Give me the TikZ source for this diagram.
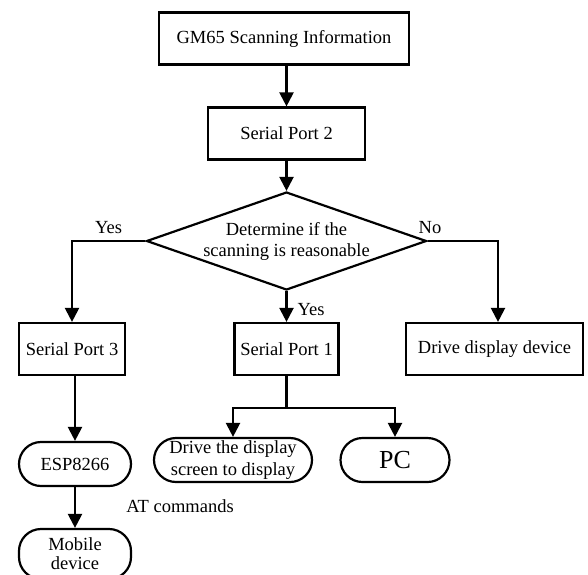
\documentclass[tikz,border=0pt]{standalone}
\usepackage{fontspec}
\setmainfont{Liberation Serif}
\usetikzlibrary{arrows.meta, calc, shapes.geometric}

\begin{document}
\begin{tikzpicture}[x=1pt, y=-1pt, line width=2.2pt, >={Triangle[length=14pt, width=14pt]},
  every node/.style={font=\fontsize{18.5}{21}\selectfont, inner sep=0pt},
  procbox/.style={draw, line width=2.2pt, minimum height=52pt},
  termbox/.style={draw, line width=2.2pt, rounded corners=22pt, minimum height=44pt, align=center}]
  \useasboundingbox (0,0) rectangle (588,574);
  \node[procbox, minimum width=250pt] (info) at (284,38.5) {GM65 Scanning Information};
  \node[procbox, minimum width=157pt] (port2) at (286.5,133.5) {Serial Port 2};
  \node[diamond, draw, line width=2.2pt, minimum width=280pt, minimum height=98pt] (decide) at (286.5,241) {};
  \node[align=center] (decidetext) at (286.5,241.5) {Determine if the\\scanning is reasonable};
  \node[procbox, minimum width=106pt] (port3) at (72,349) {Serial Port 3};
  \node[procbox, minimum width=104pt] (port1) at (286.5,349) {Serial Port 1};
  \node[procbox, minimum width=177pt] (drivedev) at (494.5,349) {Drive display device};
  \node[termbox, minimum width=112pt] (esp) at (75,464) {ESP8266};
  \node[termbox, minimum width=158pt, font=\fontsize{18.5}{22}\selectfont] (screen) at (233,460) {Drive the display\\screen to display};
  \node[termbox, minimum width=109pt, font=\fontsize{26}{30}\selectfont] (pc) at (395,460) {PC};
  \node[termbox, minimum width=112pt, minimum height=50pt, font=\fontsize{18.5}{19}\selectfont] (mobile) at (75,554) {Mobile\\device};
  \node (atlabel) at (180,506) {AT commands};
  \coordinate (split) at (286.5,408);
  % main flow
  \draw[->] (port2.north |- info.south) -- (port2.north);
  \draw[->] (port2.south) -- (decide.north);
  \draw[->] (decide.west) -| (port3.north) node[pos=0.25, above=6pt] {Yes};
  \draw[->] (decide.east) -| ($(drivedev.north)+(3.5,0)$) node[at start, anchor=south west, xshift=-10pt, yshift=6pt] {No};
  \draw[->] (decide.south) -- (port1.north) node[midway, right=10pt, yshift=-3pt] {Yes};
  % outputs
  \draw[->] (esp.north |- port3.south) -- (esp.north);
  \draw[->] (esp.south) -- (mobile.north);
  \draw (port1.south) -- (split);
  \draw[<->] (screen.north) |- (split) -| (pc.north);
\end{tikzpicture}
\end{document}
